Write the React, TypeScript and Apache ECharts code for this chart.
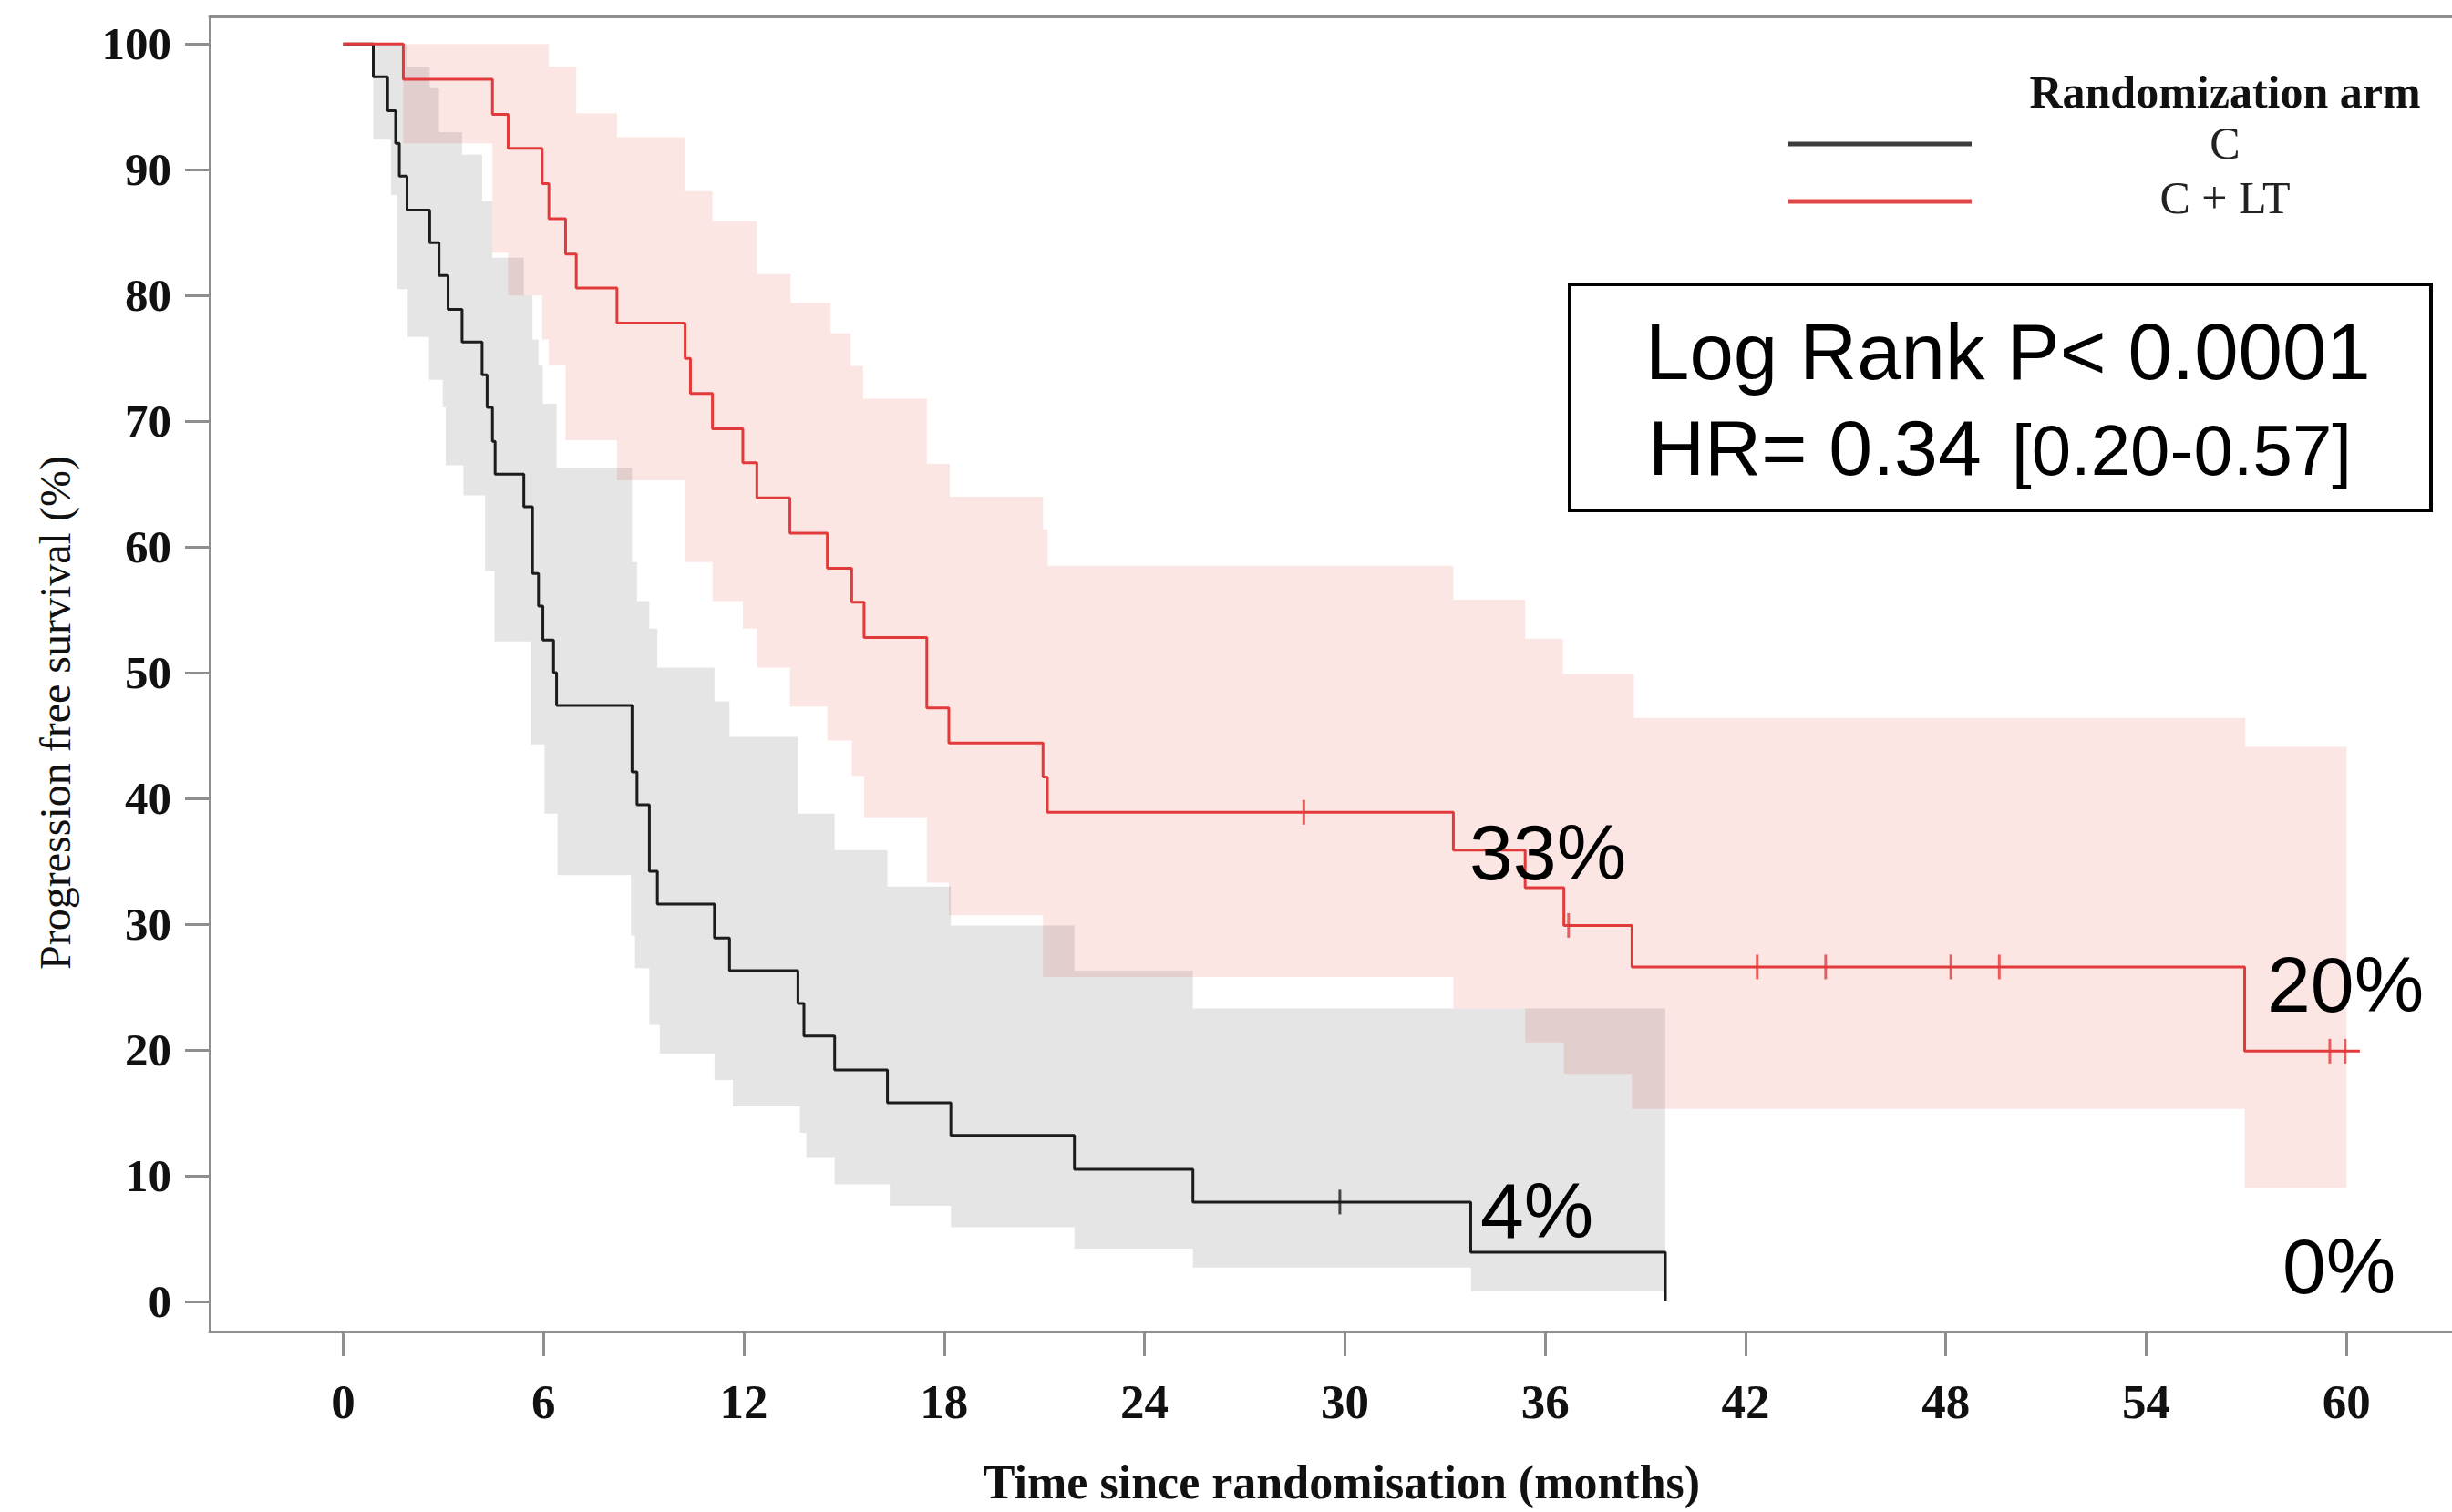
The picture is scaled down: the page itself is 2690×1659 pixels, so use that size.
import React, { useEffect, useRef } from "react";
import * as echarts from "echarts";

// ---------- tick labels ----------
const xTicks = [0, 6, 12, 18, 24, 30, 36, 42, 48, 54, 60];
const yTicks = [0, 10, 20, 30, 40, 50, 60, 70, 80, 90, 100];

// ---------- series names / texts ----------
const armNames = ["C", "C + LT"];
const legendTitle = "Randomization arm";
const xTitle = "Time since randomisation (months)";
const yTitle = "Progression free survival (%)";
const statLine1 = "Log Rank P< 0.0001";
const statLine2a = "HR= 0.34";
const statLine2b = "[0.20-0.57]";
const pctLabels = ["33%", "4%", "20%", "0%"];

// ---------- arm C (black) Kaplan-Meier ----------
const cTimes = [0, 0.9, 1.33, 1.57, 1.68, 1.91, 2.59, 2.87, 3.14, 3.56, 4.16, 4.31, 4.47, 4.55, 5.41, 5.67, 5.85, 5.98, 6.3, 6.39, 8.65, 8.8, 9.17, 9.41, 11.12, 11.57, 13.62, 13.8, 14.72, 16.3, 18.2, 21.9, 25.45, 33.77, 39.6];
const cSurv = [100, 97.4, 94.7, 92.1, 89.5, 86.8, 84.2, 81.6, 78.9, 76.3, 73.7, 71.1, 68.4, 65.8, 63.2, 57.9, 55.3, 52.6, 50.0, 47.4, 42.1, 39.5, 34.2, 31.6, 28.9, 26.3, 23.7, 21.1, 18.4, 15.8, 13.2, 10.5, 7.9, 3.9, 0];
const cCensorT = [29.85];
const cCensorS = [7.9];

// arm C confidence band
const cUpperT = [0.9, 1.91, 2.59, 2.87, 3.56, 4.16, 4.47, 5.41, 5.67, 5.85, 5.98, 6.39, 8.65, 8.8, 9.17, 9.41, 11.12, 11.57, 13.62, 14.72, 16.3, 18.2, 21.9, 25.45];
const cUpperV = [100, 98.2, 96.5, 93.0, 91.2, 87.5, 83.0, 80.0, 76.5, 74.5, 71.4, 66.3, 58.8, 55.7, 53.5, 50.4, 47.7, 44.9, 38.8, 35.9, 33.0, 29.9, 26.3, 23.3];
const cLowerT = [0.9, 1.43, 1.61, 1.93, 2.57, 2.98, 3.07, 3.6, 4.25, 4.53, 5.62, 6.03, 6.42, 8.62, 8.74, 9.17, 9.48, 11.12, 11.67, 13.68, 13.87, 14.72, 16.37, 18.2, 21.9, 25.45, 33.78];
const cLowerV = [92.4, 88.0, 80.5, 76.7, 73.3, 71.1, 66.5, 64.1, 58.1, 52.5, 44.3, 38.8, 33.9, 29.1, 26.5, 22.0, 19.7, 17.6, 15.5, 13.4, 11.4, 9.3, 7.6, 5.9, 4.2, 2.7, 0.8];
const cBandEnd = 39.6;

// ---------- arm C + LT (red) Kaplan-Meier ----------
const ltTimes = [0, 1.8, 4.47, 4.94, 5.96, 6.16, 6.66, 6.98, 8.2, 10.24, 10.4, 11.06, 11.97, 12.39, 13.38, 14.5, 15.23, 15.6, 17.48, 18.14, 20.96, 21.09, 33.25, 35.4, 36.56, 38.6, 56.95, 60.4];
const ltSurv = [100, 97.2, 94.4, 91.7, 88.9, 86.1, 83.3, 80.6, 77.8, 75.0, 72.2, 69.4, 66.7, 63.9, 61.1, 58.3, 55.6, 52.8, 47.2, 44.4, 41.7, 38.9, 35.9, 32.9, 29.9, 26.6, 19.9, 19.9];
const ltCensorT = [28.77, 36.7, 42.35, 44.4, 48.15, 49.6, 59.5, 59.96];
const ltCensorS = [38.9, 29.9, 26.6, 26.6, 26.6, 26.6, 19.9, 19.9];

// arm C + LT confidence band
const ltUpperT = [1.8, 6.16, 6.98, 8.2, 10.24, 11.06, 12.39, 13.4, 14.6, 15.2, 15.57, 17.48, 18.17, 20.96, 21.1, 33.25, 35.4, 36.53, 38.66, 56.97];
const ltUpperV = [100, 98.2, 94.5, 92.6, 88.3, 85.9, 81.7, 79.4, 77.0, 74.4, 71.8, 66.6, 64.0, 61.4, 58.5, 55.8, 52.7, 49.9, 46.4, 44.1];
const ltLowerT = [1.8, 4.47, 4.94, 5.96, 6.16, 6.66, 8.2, 10.24, 11.06, 11.97, 12.39, 13.38, 14.5, 15.23, 15.6, 17.48, 18.14, 20.96, 33.25, 35.4, 36.56, 38.6, 56.95];
const ltLowerV = [92.1, 83.4, 80.0, 76.5, 74.5, 68.5, 65.3, 58.8, 55.7, 53.5, 50.4, 47.3, 44.6, 41.8, 38.5, 33.3, 30.7, 25.8, 23.3, 20.6, 18.1, 15.3, 9.0];
const ltBandEnd = 60.0;

const BLACK = "#1c1c1c";
const RED = "#e23a3a";
const AXIS = "#8e8e8e";
const SERIF = "'Liberation Serif', 'Times New Roman', serif";
const SANS = "'Liberation Sans', Arial, sans-serif";

function bandSeries(name: string, UT: number[], UV: number[], LT: number[], LV: number[], end: number, fill: string, z: number) {
  return {
    type: "custom",
    name,
    silent: true,
    z,
    data: [[UT[0], UV[0]]],
    encode: { x: 0, y: 1 },
    renderItem: (_params: any, api: any) => {
      const pts: number[][] = [];
      UT.forEach((t, i) => {
        const t1 = i + 1 < UT.length ? UT[i + 1] : end;
        pts.push(api.coord([t, UV[i]]), api.coord([t1, UV[i]]));
      });
      for (let i = LT.length - 1; i >= 0; i--) {
        const t1 = i + 1 < LT.length ? LT[i + 1] : end;
        pts.push(api.coord([t1, LV[i]]), api.coord([LT[i], LV[i]]));
      }
      return { type: "polygon", shape: { points: pts }, style: { fill } };
    },
  };
}

export default function App() {
  const ref = useRef<HTMLDivElement>(null);
  useEffect(() => {
    if (!ref.current) return;
    const chart = echarts.init(ref.current, undefined, { renderer: "svg" });
    const xMin = -4;
    const xMax = 63.16;
    const option: any = {
      animation: false,
      backgroundColor: "#ffffff",
      grid: { left: 230, right: 0, top: 18, bottom: 198, containLabel: false },
      xAxis: [
        {
          type: "value",
          min: xMin,
          max: xMax,
          position: "bottom",
          axisLine: { show: true, onZero: false, lineStyle: { color: AXIS, width: 3 } },
          axisTick: { show: true, length: 27, customValues: xTicks, lineStyle: { color: AXIS, width: 3 } },
          axisLabel: {
            show: true,
            customValues: xTicks,
            margin: 50,
            fontSize: 53,
            fontFamily: SERIF,
            fontWeight: "bold",
            color: "#111",
          },
          splitLine: { show: false },
        },
        {
          type: "value",
          min: xMin,
          max: xMax,
          position: "top",
          axisLine: { show: true, onZero: false, lineStyle: { color: AXIS, width: 3 } },
          axisTick: { show: false },
          axisLabel: { show: false },
          splitLine: { show: false },
        },
      ],
      yAxis: {
        type: "value",
        min: -2.4,
        max: 102.2,
        axisLine: { show: true, onZero: false, lineStyle: { color: AXIS, width: 3 } },
        axisTick: { show: true, length: 27, customValues: yTicks, lineStyle: { color: AXIS, width: 3 } },
        axisLabel: {
          show: true,
          customValues: yTicks,
          margin: 42,
          fontSize: 51,
          fontFamily: SERIF,
          fontWeight: "bold",
          color: "#111",
        },
        splitLine: { show: false },
      },
      series: [
        bandSeries("C + LT band", ltUpperT, ltUpperV, ltLowerT, ltLowerV, ltBandEnd, "rgba(235,100,90,0.16)", 1),
        bandSeries("C band", cUpperT, cUpperV, cLowerT, cLowerV, cBandEnd, "rgba(0,0,0,0.10)", 2),
        {
          type: "line",
          name: armNames[0],
          data: cTimes.map((t, i) => [t, cSurv[i]]),
          step: "end",
          showSymbol: false,
          symbol: "none",
          silent: true,
          z: 3,
          lineStyle: { color: BLACK, width: 3 },
        },
        {
          type: "line",
          name: armNames[1],
          data: ltTimes.map((t, i) => [t, ltSurv[i]]),
          step: "end",
          showSymbol: false,
          symbol: "none",
          silent: true,
          z: 3,
          lineStyle: { color: RED, width: 3 },
        },
        {
          type: "scatter",
          name: "C censored",
          data: cCensorT.map((t, i) => [t, cCensorS[i]]),
          symbol: "rect",
          symbolSize: [3, 27],
          silent: true,
          z: 4,
          itemStyle: { color: BLACK },
        },
        {
          type: "scatter",
          name: "C + LT censored",
          data: ltCensorT.map((t, i) => [t, ltCensorS[i]]),
          symbol: "rect",
          symbolSize: [3, 27],
          silent: true,
          z: 4,
          itemStyle: { color: RED },
        },
      ],
      graphic: [
        // axis titles
        {
          type: "text",
          x: 60,
          y: 782,
          rotation: Math.PI / 2,
          style: { text: yTitle, fontSize: 48, fontFamily: SERIF, fill: "#111", align: "center", verticalAlign: "middle" },
        },
        {
          type: "text",
          x: 1472,
          y: 1626,
          style: { text: xTitle, fontSize: 52, fontFamily: SERIF, fontWeight: "bold", fill: "#111", align: "center", verticalAlign: "middle" },
        },
        // legend
        {
          type: "text",
          x: 2441,
          y: 101,
          style: { text: legendTitle, fontSize: 50, fontFamily: SERIF, fontWeight: "bold", fill: "#111", align: "center", verticalAlign: "middle" },
        },
        { type: "line", shape: { x1: 1962, y1: 158, x2: 2163, y2: 158 }, style: { stroke: "#3c3c3c", lineWidth: 5 } },
        { type: "line", shape: { x1: 1962, y1: 221, x2: 2163, y2: 221 }, style: { stroke: "#e04848", lineWidth: 5 } },
        {
          type: "text",
          x: 2441,
          y: 157,
          style: { text: armNames[0], fontSize: 50, fontFamily: SERIF, fill: "#222", align: "center", verticalAlign: "middle" },
        },
        {
          type: "text",
          x: 2441,
          y: 217,
          style: { text: armNames[1], fontSize: 50, fontFamily: SERIF, fill: "#222", align: "center", verticalAlign: "middle" },
        },
        // stats box
        {
          type: "rect",
          shape: { x: 1722, y: 312, width: 945, height: 248 },
          style: { fill: "#ffffff", stroke: "#000", lineWidth: 4 },
          z: 10,
        },
        {
          type: "text",
          x: 1805,
          y: 385,
          z: 11,
          style: { text: statLine1, fontSize: 87, fontFamily: SANS, fill: "#000", align: "left", verticalAlign: "middle" },
        },
        {
          type: "text",
          x: 1808,
          y: 491,
          z: 11,
          style: { text: statLine2a, fontSize: 86, fontFamily: SANS, fill: "#000", align: "left", verticalAlign: "middle" },
        },
        {
          type: "text",
          x: 2207,
          y: 494,
          z: 11,
          style: { text: statLine2b, fontSize: 78, fontFamily: SANS, fill: "#000", align: "left", verticalAlign: "middle" },
        },
        // percentage annotations
        {
          type: "text",
          x: 1612,
          y: 935,
          z: 11,
          style: { text: pctLabels[0], fontSize: 86, fontFamily: SANS, fill: "#000", align: "left", verticalAlign: "middle" },
        },
        {
          type: "text",
          x: 1624,
          y: 1328,
          z: 11,
          style: { text: pctLabels[1], fontSize: 86, fontFamily: SANS, fill: "#000", align: "left", verticalAlign: "middle" },
        },
        {
          type: "text",
          x: 2487,
          y: 1080,
          z: 11,
          style: { text: pctLabels[2], fontSize: 86, fontFamily: SANS, fill: "#000", align: "left", verticalAlign: "middle" },
        },
        {
          type: "text",
          x: 2504,
          y: 1389,
          z: 11,
          style: { text: pctLabels[3], fontSize: 86, fontFamily: SANS, fill: "#000", align: "left", verticalAlign: "middle" },
        },
      ],
    };
    chart.setOption(option);
    return () => chart.dispose();
  }, []);
  return (
    <div
      ref={ref}
      style={{ position: "fixed", left: 0, top: 0, width: 2690, height: 1659, background: "#fff" }}
    />
  );
}
